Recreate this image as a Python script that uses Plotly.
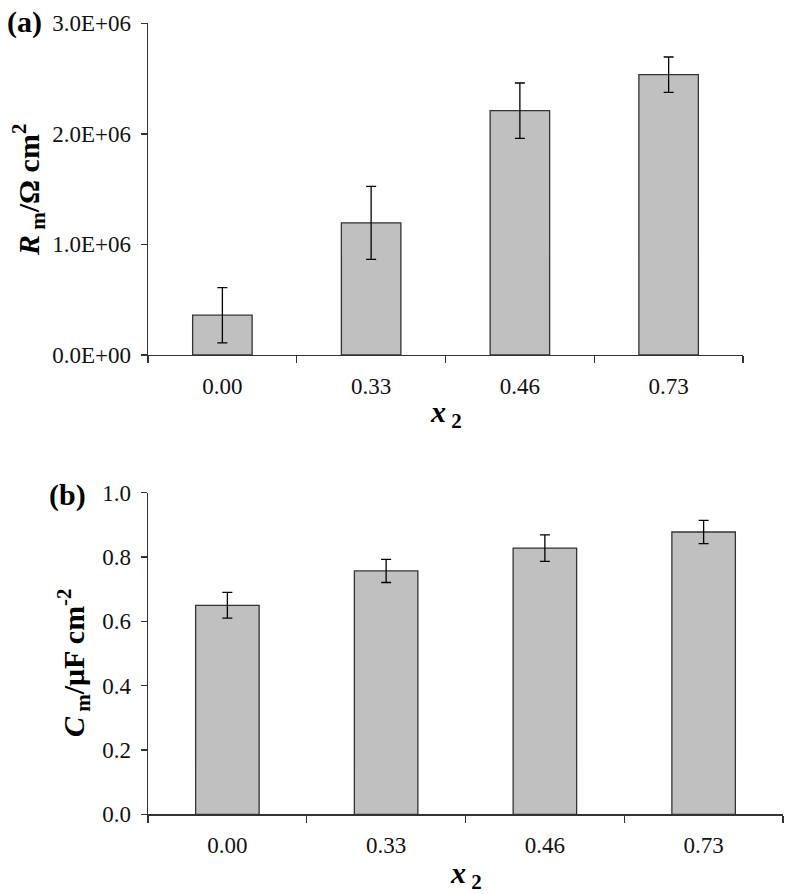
import plotly.graph_objects as go

# ---- data ----
categories = ["0.00", "0.33", "0.46", "0.73"]
rm_values = [0.36e6, 1.195e6, 2.21e6, 2.535e6]
rm_errors = [0.25e6, 0.33e6, 0.25e6, 0.16e6]
cm_values = [0.65, 0.757, 0.828, 0.878]
cm_errors = [0.04, 0.036, 0.041, 0.036]
rm_tickvals = [0, 1e6, 2e6, 3e6]
rm_ticktext = ["0.0E+00", "1.0E+06", "2.0E+06", "3.0E+06"]
cm_tickvals = [0.0, 0.2, 0.4, 0.6, 0.8, 1.0]
cm_ticktext = ["0.0", "0.2", "0.4", "0.6", "0.8", "1.0"]

W, H = 786, 894
FONT = "Liberation Serif"
BAR_FILL = "#C0C0C0"
BAR_LINE = "#333333"
AX = "#333333"

def px(x):
    return x / W

def py(y):
    return 1 - y / H

fig = go.Figure()
fig.add_trace(go.Bar(
    x=categories, y=rm_values, xaxis="x", yaxis="y",
    marker=dict(color=BAR_FILL, line=dict(color=BAR_LINE, width=1.3)),
    error_y=dict(type="data", array=rm_errors, visible=True,
                 color="black", thickness=1.3, width=5),
    showlegend=False, hoverinfo="skip",
))
fig.add_trace(go.Bar(
    x=categories, y=cm_values, xaxis="x2", yaxis="y2",
    marker=dict(color=BAR_FILL, line=dict(color=BAR_LINE, width=1.3)),
    error_y=dict(type="data", array=cm_errors, visible=True,
                 color="black", thickness=1.3, width=5),
    showlegend=False, hoverinfo="skip",
))

TICKFONT = dict(family=FONT, size=23, color="#111111")
xcommon = dict(type="category", tickson="boundaries", ticks="outside",
               ticklen=7, tickwidth=1.3, tickcolor=AX, showline=True,
               linecolor=AX, linewidth=1.3, showgrid=False, zeroline=False,
               tickfont=TICKFONT, ticklabelstandoff=10, fixedrange=True,
               automargin=False)
ycommon = dict(ticks="outside", ticklen=6, tickwidth=1.3, tickcolor=AX,
               showline=True, linecolor=AX, linewidth=1.3, showgrid=False,
               zeroline=False, tickfont=TICKFONT,
               ticklabelstandoff=5, fixedrange=True, automargin=False)

fig.update_layout(
    template="none",
    width=W, height=H, autosize=False,
    margin=dict(l=0, r=0, t=0, b=0, pad=0),
    paper_bgcolor="white", plot_bgcolor="white",
    bargap=0.6,
    xaxis=dict(domain=[px(148), px(743)], anchor="y", **xcommon),
    yaxis=dict(domain=[py(355), py(23.3)], anchor="x", range=[0, 3e6],
               tickmode="array", tickvals=rm_tickvals, ticktext=rm_ticktext,
               **ycommon),
    xaxis2=dict(domain=[px(148), px(783)], anchor="y2", **xcommon),
    yaxis2=dict(domain=[py(814.3), py(492.8)], anchor="x2", range=[0, 1],
                tickmode="array", tickvals=cm_tickvals, ticktext=cm_ticktext,
                **ycommon),
)

ann_font = dict(family=FONT, size=30, color="black")
lab_font = dict(family=FONT, size=30, color="black")
annotations = [
    dict(text="<b>(a)</b>", x=px(24), y=py(22), font=lab_font),
    dict(text="<b>(b)</b>", x=px(67), y=py(495), font=lab_font),
    dict(text="<b><i>R</i></b><b><sub> m</sub>/Ω cm<sup>2</sup></b>",
         x=px(28), y=py(190), textangle=-90, font=ann_font),
    dict(text="<b><i>C</i></b><b><sub> m</sub>/μF cm<sup>-2</sup></b>",
         x=px(73), y=py(663), textangle=-90, font=ann_font),
    dict(text="<b><i>x</i></b><b><sub> 2</sub></b>", x=px(445.5), y=py(414), font=ann_font),
    dict(text="<b><i>x</i></b><b><sub> 2</sub></b>", x=px(465.5), y=py(875), font=ann_font),
]
for a in annotations:
    a.update(xref="paper", yref="paper", showarrow=False,
             xanchor="center", yanchor="middle")
fig.update_layout(annotations=annotations)

fig.write_html("out.html", config={"displayModeBar": False, "staticPlot": True},
               post_script="document.body.style.margin='0';document.body.style.overflow='hidden';")
